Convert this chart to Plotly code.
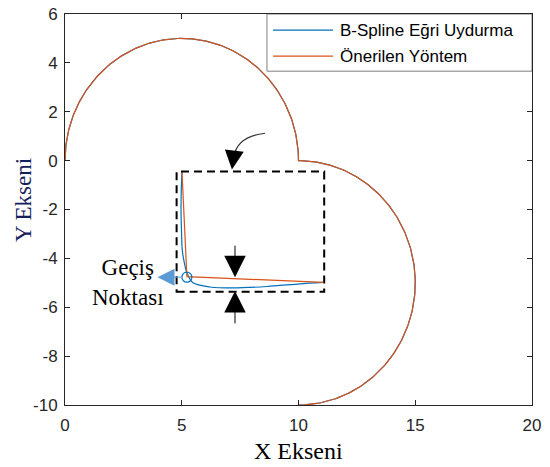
import plotly.graph_objects as go
import numpy as np

# Path geometry: two circular arcs (centre, radius, start/end angle in degrees)
arc_centers = [(5.0, 0.0), (10.0, -5.0)]
arc_radii = [5.0, 5.0]
arc_start_deg = [180.0, 90.0]
arc_end_deg = [0.0, -90.0]

# Zoomed detail of the transition region
bspline_x = [5.01, 4.98, 4.97, 4.99, 5.02, 5.10, 5.22, 5.48, 6.21, 7.19, 8.65, 10.06, 11.05]
bspline_y = [-0.45, -1.20, -2.10, -2.90, -3.64, -4.13, -4.59, -5.00, -5.17, -5.21, -5.15, -5.04, -4.98]
proposed_x = [5.01, 5.22, 11.05]
proposed_y = [-0.44, -4.75, -4.98]
transition_x = [5.22]
transition_y = [-4.77]

x_ticks = [0, 5, 10, 15, 20]
y_ticks = [-10, -8, -6, -4, -2, 0, 2, 4, 6]

BLUE = "#0072BD"
ORANGE = "#D95319"
AXIS = "#262626"


def arc_path():
    xs, ys = [], []
    for (cx, cy), r, a0, a1 in zip(arc_centers, arc_radii, arc_start_deg, arc_end_deg):
        t = np.radians(np.linspace(a0, a1, 181))
        xs.extend(cx + r * np.cos(t))
        ys.extend(cy + r * np.sin(t))
    return xs, ys


px, py = arc_path()

fig = go.Figure()
fig.add_trace(go.Scatter(x=px, y=py, mode="lines", line=dict(color=BLUE, width=1.2),
                         name="B-Spline Eğri Uydurma", showlegend=False))
fig.add_trace(go.Scatter(x=px, y=py, mode="lines", line=dict(color=ORANGE, width=1.2),
                         name="Önerilen Yöntem", showlegend=False))

fig.add_trace(go.Scatter(x=bspline_x, y=bspline_y, mode="lines",
                         line=dict(color=BLUE, width=1.2, shape="spline", smoothing=0.8),
                         showlegend=False))
fig.add_trace(go.Scatter(x=proposed_x, y=proposed_y, mode="lines",
                         line=dict(color=ORANGE, width=1.2), showlegend=False))
fig.add_trace(go.Scatter(x=transition_x, y=transition_y, mode="markers",
                         marker=dict(symbol="circle-open", size=10, color=BLUE,
                                     line=dict(width=1.2, color="#4a8cc8")),
                         showlegend=False))

shapes = [
    # dashed zoom frame
    dict(type="rect", xref="x", yref="y", x0=4.78, x1=11.10, y0=-5.37, y1=-0.45,
         line=dict(color="black", width=2, dash="8px,5px")),
    # curved pointer into the frame
    dict(type="path", xref="x", yref="y",
         path="M 8.57,1.12 Q 7.37,0.99 7.24,0.17",
         line=dict(color="#333333", width=1.2)),
    # legend box
    dict(type="rect", xref="x", yref="y", x0=8.65, x1=20.0, y0=3.66, y1=6.0,
         line=dict(color="#7f7f7f", width=1), fillcolor="white", layer="above"),
    dict(type="line", xref="x", yref="y", x0=8.91, x1=11.48, y0=5.34, y1=5.34,
         line=dict(color=BLUE, width=1.2), layer="above"),
    dict(type="line", xref="x", yref="y", x0=8.91, x1=11.48, y0=4.28, y1=4.28,
         line=dict(color=ORANGE, width=1.2), layer="above"),
]

annotations = [
    # legend labels
    dict(x=11.69, y=5.34, xref="x", yref="y", text="B-Spline Eğri Uydurma", showarrow=False,
         xanchor="left", yanchor="middle", font=dict(family="Arial, Liberation Sans", size=17, color="black")),
    dict(x=11.69, y=4.28, xref="x", yref="y", text="Önerilen Yöntem", showarrow=False,
         xanchor="left", yanchor="middle", font=dict(family="Arial, Liberation Sans", size=17, color="black")),
    # gap indicator arrows
    dict(x=7.28, y=-4.77, xref="x", yref="y", ax=0, ay=-33, showarrow=True,
         arrowhead=2, arrowsize=4.3, arrowwidth=1, arrowcolor="black", standoff=0, text=""),
    dict(x=7.28, y=-5.33, xref="x", yref="y", ax=0, ay=34, showarrow=True,
         arrowhead=2, arrowsize=4.3, arrowwidth=1, arrowcolor="black", standoff=0, text=""),
    # head of curved pointer
    dict(x=7.15, y=-0.36, xref="x", yref="y", ax=2, ay=-16, showarrow=True,
         arrowhead=2, arrowsize=3.8, arrowwidth=1, arrowcolor="black", standoff=0, text=""),
    # transition point label
    dict(x=3.96, y=-4.77, xref="x", yref="y", ax=25, ay=0, showarrow=True,
         arrowhead=2, arrowsize=3.4, arrowwidth=1, arrowcolor="#5b9bd5", standoff=0, text=""),
    dict(x=2.70, y=-4.97, xref="x", yref="y", text="Geçiş<br>Noktası", showarrow=False,
         xanchor="center", yanchor="middle", align="center",
         font=dict(family="Liberation Serif, Times New Roman", size=23, color="black")),
    # axis titles
    dict(x=(298 - 65) / 467, y=1 - (451 - 14) / 391, xref="paper", yref="paper", text="X Ekseni",
         showarrow=False, xanchor="center", yanchor="middle",
         font=dict(family="Liberation Serif, Times New Roman", size=24, color="black")),
    dict(x=(23 - 65) / 467, y=1 - (200 - 14) / 391, xref="paper", yref="paper", text="Y Ekseni",
         showarrow=False, xanchor="center", yanchor="middle", textangle=-90,
         font=dict(family="Liberation Serif, Times New Roman", size=23, color="#14205a")),
]

axis_common = dict(showline=True, linecolor=AXIS, linewidth=1, mirror="ticks",
                   ticks="inside", ticklen=5, tickcolor=AXIS, showgrid=False, zeroline=False,
                   automargin=False,
                   tickfont=dict(family="Arial, Liberation Sans", size=17, color=AXIS))

fig.update_layout(
    width=550, height=467,
    margin=dict(l=65, r=18, t=14, b=62),
    paper_bgcolor="white", plot_bgcolor="white",
    showlegend=False,
    xaxis=dict(range=[0, 20], tickvals=x_ticks, ticktext=[str(v) for v in x_ticks],
               ticklabelstandoff=5, **axis_common),
    yaxis=dict(range=[-10, 6], tickvals=y_ticks, ticktext=[str(v) for v in y_ticks],
               ticklabelstandoff=3, **axis_common),
    shapes=shapes, annotations=annotations,
)

fig.write_html("out.html")
